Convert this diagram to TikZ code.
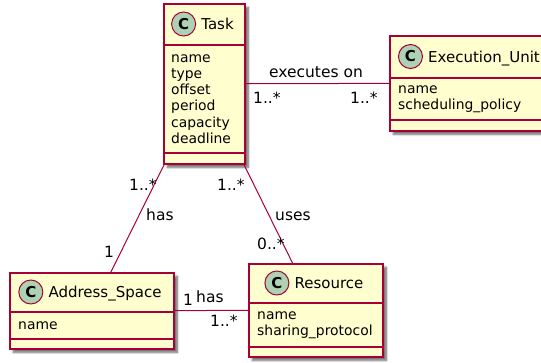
\documentclass[tikz,border=0pt]{standalone}
\usepackage{fontspec}
\setmainfont{DejaVu Sans}
\usepackage{tikz}
\usetikzlibrary{positioning}
\usetikzlibrary{shadows.blur}

\definecolor{umlred}{HTML}{A80036}
\definecolor{umlfill}{HTML}{FEFECE}
\definecolor{umlcirc}{HTML}{ADD1B2}

\begin{document}
\begin{tikzpicture}[
        x=1pt, y=-1pt,
        classbox/.style={draw=umlred, fill=umlfill, line width=1.5pt,
                         anchor=north west, inner sep=0pt,
                         blur shadow={shadow xshift=3.5pt, shadow yshift=-3.5pt,
                                      shadow blur steps=6, shadow opacity=60}},
        sep/.style={draw=umlred, line width=1.5pt},
        classname/.style={inner sep=0pt, text height=11pt, text depth=0pt,
                          font=\fontsize{15}{18}\selectfont},
        circ/.style={circle, draw=umlred, fill=umlcirc, line width=1pt,
                     minimum size=24pt, inner sep=0pt,
                     font=\fontsize{15}{18}\selectfont\bfseries},
        attrs/.style={anchor=west, align=left, inner sep=0pt,
                      font=\fontsize{13.9}{16.3}\selectfont},
        assoc/.style={draw=umlred, line width=1pt},
        lbl/.style={anchor=base west, inner sep=0pt,
                    font=\fontsize{15.5}{18}\selectfont},
    ]
    \useasboundingbox (0,0) rectangle (541,362);
    \clip (0,0) rectangle (541,362);

    \node[classbox, minimum width=81pt, minimum height=160pt] (task) at (163,3) {};
    \draw[sep] (163,45) -- (244,45);
    \draw[sep] (163,153) -- (244,153);
    \node[classname] (taskname) at (217.5,24) {Task};
    \node[circ, left=5pt of taskname] (taskc) {C};
    \node[attrs] (taskattr) at (171,99)
        {name\\type\\offset\\period\\capacity\\deadline};

    \node[classbox, minimum width=162pt, minimum height=95pt] (exec) at (389,35) {};
    \draw[sep] (389,78) -- (551,78);
    \draw[sep] (389,120) -- (551,120);
    \node[classname] (execname) at (484,56.5) {Execution\_Unit};
    \node[circ, left=5pt of execname] (execc) {C};
    \node[attrs] (execattr) at (398,99) {name\\scheduling\_policy};

    \node[classbox, minimum width=164pt, minimum height=76pt] (addr) at (9,272) {};
    \draw[sep] (9,312) -- (173,312);
    \draw[sep] (9,339) -- (173,339);
    \node[classname] (addrname) at (105,292) {Address\_Space};
    \node[circ, left=5pt of addrname] (addrc) {C};
    \node[attrs] (addrattr) at (18,325.5) {name};

    \node[classbox, minimum width=134pt, minimum height=93pt] (res) at (248,263) {};
    \draw[sep] (248,303) -- (382,303);
    \draw[sep] (248,347) -- (382,347);
    \node[classname] (resname) at (329,283) {Resource};
    \node[circ, left=5pt of resname] (resc) {C};
    \node[attrs] (resattr) at (257,325) {name\\sharing\_protocol};

    \draw[assoc] (task) -- (exec);
    \draw[assoc] (task) -- (addr);
    \draw[assoc] (task) -- (res);
    \draw[assoc] (addr) -- (res);

    \node[lbl, anchor=base] (execlbl) at (316,77) {executes on};
    \node[lbl] (execm1) at (253,103) {1..*};
    \node[lbl] (execm2) at (350,103) {1..*};

    \node[lbl] (haslbl) at (146,220) {has};
    \node[lbl] (hasm1) at (129,190) {1..*};
    \node[lbl] (hasm2) at (104,257) {1};

    \node[lbl] (useslbl) at (275,220) {uses};
    \node[lbl] (usesm1) at (217,190) {1..*};
    \node[lbl] (usesm2) at (257,249) {0..*};

    \node[lbl] (reslbl) at (196,302) {has};
    \node[lbl] (resm1) at (183,305) {1};
    \node[lbl] (resm2) at (210,326) {1..*};
\end{tikzpicture}
\end{document}
